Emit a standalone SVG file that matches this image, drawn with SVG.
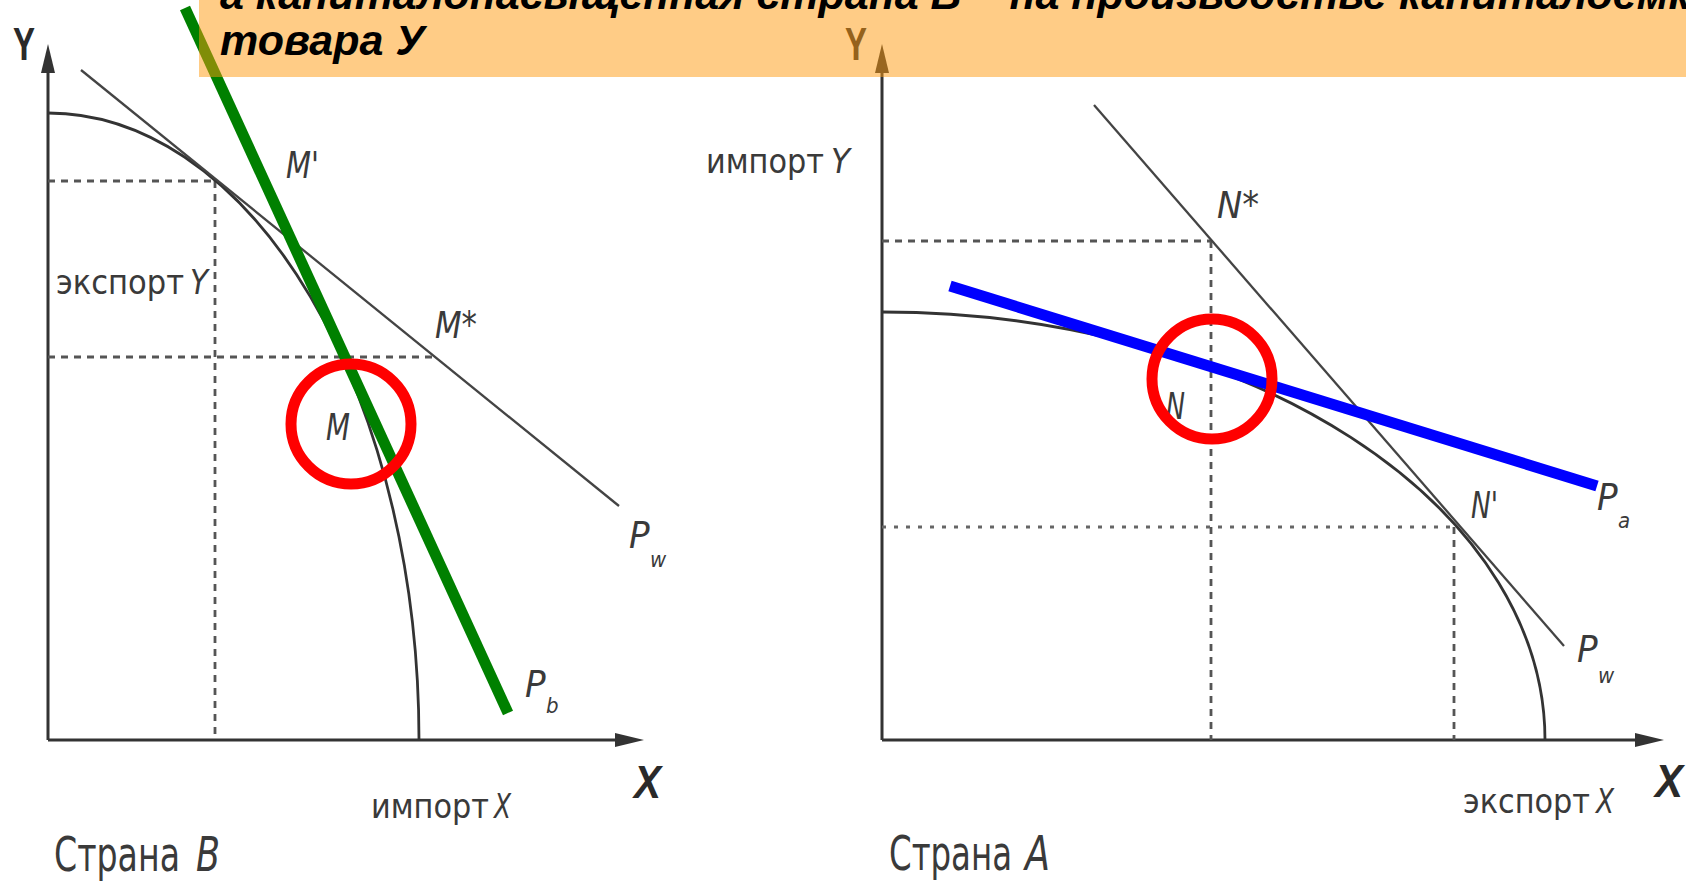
<svg xmlns="http://www.w3.org/2000/svg" width="1686" height="883" viewBox="0 0 1686 883">
<style>
.ax{stroke:#333;stroke-width:3;fill:none}
.head{fill:#333}
.ppf{stroke:#333;stroke-width:2.8;fill:none}
.pw{stroke:#444;stroke-width:2.3;fill:none}
.dash{stroke:#555;stroke-width:2.8;stroke-dasharray:7 6;fill:none}
.dot{stroke:#666;stroke-width:3.2;stroke-dasharray:4 8;fill:none}
.lbl{font-family:"Liberation Sans Narrow","DejaVu Sans Condensed","Liberation Sans",sans-serif;fill:#3a3a3a}
.sm{font-size:34px}
.big{font-size:48px}
.pt{font-size:38px;font-style:italic}
.sub{font-size:22px;font-style:italic}
.axl{font-family:"Liberation Sans","DejaVu Sans",sans-serif;font-weight:bold;font-size:46px;fill:#2a2a2a}
.it{font-style:italic}
.ban{font-family:"Liberation Sans",Arial,sans-serif;font-weight:bold;font-style:italic;font-size:43px;fill:#000}
</style>
<rect width="1686" height="883" fill="#fff"/>

<g id="graph-b">
  <line class="ax" x1="48" y1="70" x2="48" y2="740"/>
  <line class="ax" x1="48" y1="740" x2="620" y2="740"/>
  <polygon class="head" points="48,44 41,73 55,73"/>
  <polygon class="head" points="644,740 615,733 615,747"/>
  <line class="dash" x1="48" y1="181" x2="215" y2="181"/>
  <line class="dash" x1="215" y1="181" x2="215" y2="740"/>
  <line class="dash" x1="48" y1="357" x2="435" y2="357"/>
  <path class="ppf" d="M48,113 A371,627 0 0 1 419,740"/>
  <line class="pw" x1="81" y1="70" x2="619" y2="506"/>
  <text class="axl" x="13" y="60" textLength="22" lengthAdjust="spacingAndGlyphs">Y</text>
  <text class="axl it" x="634" y="798" textLength="27" lengthAdjust="spacingAndGlyphs">X</text>
  <text class="lbl sm" x="56" y="294" textLength="128" lengthAdjust="spacingAndGlyphs">экспорт</text>
  <text class="lbl sm it" x="190" y="294" textLength="18" lengthAdjust="spacingAndGlyphs">Y</text>
  <text class="lbl sm" x="371" y="818" textLength="118" lengthAdjust="spacingAndGlyphs">импорт</text>
  <text class="lbl sm it" x="494" y="818" textLength="17" lengthAdjust="spacingAndGlyphs">X</text>
  <text class="lbl big" transform="translate(54,871) scale(0.75,1)" textLength="168" lengthAdjust="spacingAndGlyphs">Страна</text>
  <text class="lbl big it" x="196" y="871" textLength="24" lengthAdjust="spacingAndGlyphs">B</text>
  <text class="lbl pt" x="286" y="178" textLength="33" lengthAdjust="spacingAndGlyphs">M'</text>
  <text class="lbl pt" x="435" y="338" textLength="42" lengthAdjust="spacingAndGlyphs">M*</text>
  <text class="lbl pt" x="326" y="440" textLength="24" lengthAdjust="spacingAndGlyphs">M</text>
  <text class="lbl pt" x="629" y="548">P</text><text class="lbl sub" x="650" y="567">w</text>
  <text class="lbl pt" x="525" y="697">P</text><text class="lbl sub" x="546" y="713">b</text>
</g>

<g id="graph-a">
  <line class="ax" x1="882" y1="70" x2="882" y2="740"/>
  <line class="ax" x1="882" y1="740" x2="1640" y2="740"/>
  <polygon class="head" points="882,44 875,73 889,73"/>
  <polygon class="head" points="1664,740 1635,733 1635,747"/>
  <line class="dash" x1="882" y1="241" x2="1211" y2="241"/>
  <line class="dash" x1="1211" y1="241" x2="1211" y2="740"/>
  <line class="dot" x1="882" y1="527" x2="1454" y2="527"/>
  <line class="dash" x1="1454" y1="527" x2="1454" y2="740"/>
  <path class="ppf" d="M882,312 A663,428 0 0 1 1545,740"/>
  <line class="pw" x1="1094" y1="105" x2="1564" y2="646"/>
  <text class="axl" x="845" y="60" textLength="22" lengthAdjust="spacingAndGlyphs">Y</text>
  <text class="axl it" x="1655" y="797" textLength="28" lengthAdjust="spacingAndGlyphs">X</text>
  <text class="lbl sm" x="706" y="173" textLength="118" lengthAdjust="spacingAndGlyphs">импорт</text>
  <text class="lbl sm it" x="831" y="173" textLength="19" lengthAdjust="spacingAndGlyphs">Y</text>
  <text class="lbl sm" x="1463" y="813" textLength="127" lengthAdjust="spacingAndGlyphs">экспорт</text>
  <text class="lbl sm it" x="1596" y="813" textLength="18" lengthAdjust="spacingAndGlyphs">X</text>
  <text class="lbl big" transform="translate(889,870) scale(0.75,1)" textLength="164" lengthAdjust="spacingAndGlyphs">Страна</text>
  <text class="lbl big it" x="1025" y="870" textLength="25" lengthAdjust="spacingAndGlyphs">A</text>
  <text class="lbl pt" x="1217" y="218" textLength="42" lengthAdjust="spacingAndGlyphs">N*</text>
  <text class="lbl pt" x="1166" y="419" textLength="19" lengthAdjust="spacingAndGlyphs">N</text>
  <text class="lbl pt" x="1471" y="518" textLength="27" lengthAdjust="spacingAndGlyphs">N'</text>
  <text class="lbl pt" x="1597" y="510">P</text><text class="lbl sub" x="1618" y="528">a</text>
  <text class="lbl pt" x="1577" y="662">P</text><text class="lbl sub" x="1598" y="683">w</text>
</g>

<g id="connectors">
  <line id="green-line" x1="185" y1="8" x2="508" y2="713" stroke="#008000" stroke-width="11"/>
  <line id="blue-line" x1="950" y1="286" x2="1597" y2="486" stroke="#0000FF" stroke-width="11"/>
  <circle id="circle-m" cx="351" cy="424" r="60" fill="none" stroke="#FF0000" stroke-width="11"/>
  <circle id="circle-n" cx="1212" cy="379" r="60" fill="none" stroke="#FF0000" stroke-width="11"/>
</g>

<g id="banner">
  <rect x="199" y="0" width="1487" height="77" fill="#FF990D" fill-opacity="0.5"/>
  <text class="ban" x="220" y="9">а капиталонасыщенная страна В – на производстве капиталоемкого</text>
  <text class="ban" x="220" y="55">товара У</text>
</g>
</svg>
